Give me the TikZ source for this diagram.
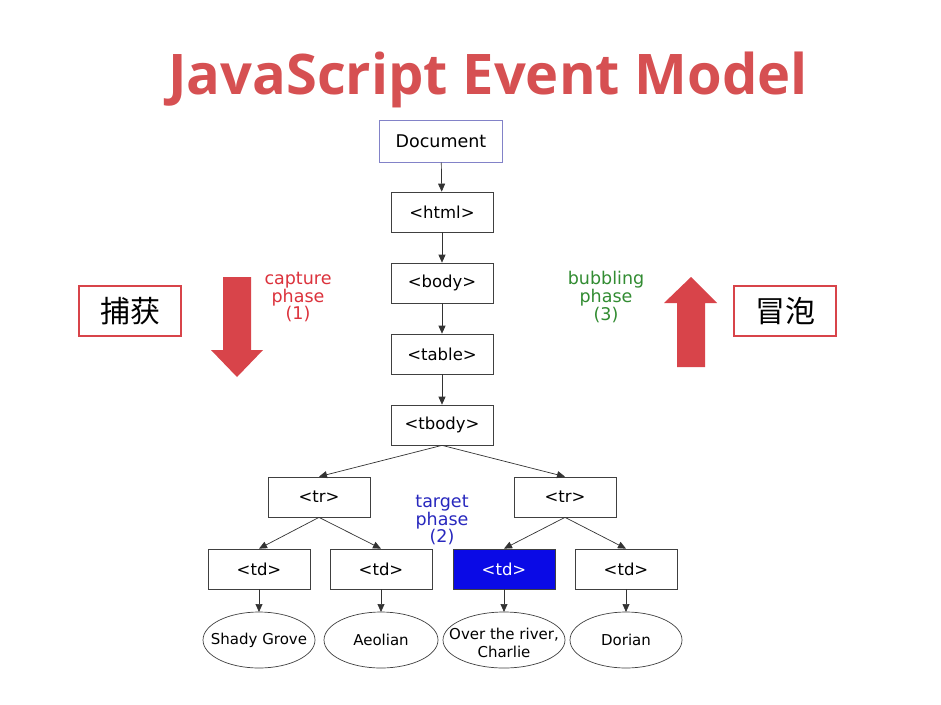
\documentclass[tikz,border=0pt]{standalone}
\usepackage{fontspec}
\setmainfont{DejaVu Sans}
\newfontfamily\titlefont{Open Sans}
\newfontfamily\cjkfont{Noto Sans CJK SC}
\usetikzlibrary{shapes.geometric,arrows.meta}
\definecolor{titlered}{RGB}{214,80,82}
\definecolor{arrowred}{RGB}{216,68,74}
\definecolor{capred}{RGB}{220,50,60}
\definecolor{bubgreen}{RGB}{50,140,50}
\definecolor{tarblue}{RGB}{40,40,190}
\definecolor{hiblue}{RGB}{10,10,230}
\definecolor{docborder}{RGB}{130,130,200}
\begin{document}
\begin{tikzpicture}[x=1pt,y=-1pt,
  tagbox/.style={draw=black!75,line width=0.7pt,minimum width=102pt,minimum height=40pt,inner sep=0pt,font=\fontsize{16.5}{19}\selectfont},
  leaf/.style={inner sep=0pt,align=center,font=\fontsize{15}{18}\selectfont},
  leafline/.style={draw=black!75,line width=0.7pt},
  edge/.style={draw=black!80,line width=0.7pt,-{Triangle[length=8pt,width=7pt]}},
  phase/.style={align=center,font=\fontsize{17.5}{16.5}\selectfont},
  cjkbox/.style={draw=arrowred,line width=2.5pt,minimum width=102pt,minimum height=50pt,inner sep=0pt,font=\cjkfont\fontsize{30}{32}\selectfont}
]
\useasboundingbox (0,0) rectangle (941,704);
\fill[white] (0,0) rectangle (941,704);

\node[text=titlered,font=\titlefont\bfseries\fontsize{56}{60}\selectfont] (title) at (488,80) {JavaScript Event Model};

\node[tagbox,draw=docborder,line width=1pt,minimum width=123pt,minimum height=42pt,font=\fontsize{17.5}{20}\selectfont] (doc) at (441,141) {Document};
\node[tagbox] (html) at (442,212) {<html>};
\node[tagbox] (body) at (442,283) {<body>};
\node[tagbox] (table) at (442,354) {<table>};
\node[tagbox] (tbody) at (442,425) {<tbody>};
\node[tagbox] (trl) at (319,497) {<tr>};
\node[tagbox] (trr) at (565,497) {<tr>};
\node[tagbox] (td1) at (259,569) {<td>};
\node[tagbox] (td2) at (381,569) {<td>};
\node[tagbox,fill=hiblue,text=white] (td3) at (504,569) {<td>};
\node[tagbox] (td4) at (626,569) {<td>};

\node[leaf] (l1) at (259,640) {Shady Grove};
\node[leaf] (l2) at (381,640) {Aeolian};
\node[leaf] (l3) at (504,643) {Over the river,\\Charlie};
\node[leaf] (l4) at (626,640) {Dorian};
\draw[leafline] (259,640) ellipse [x radius=56, y radius=28];
\draw[leafline] (381,640) ellipse [x radius=57, y radius=28];
\draw[leafline] (504,640) ellipse [x radius=61, y radius=28];
\draw[leafline] (626,640) ellipse [x radius=56, y radius=28];
\coordinate (l1top) at (259,612);
\coordinate (l2top) at (381,612);
\coordinate (l3top) at (504,612);
\coordinate (l4top) at (626,612);

\draw[edge] (doc) -- (html);
\draw[edge] (html) -- (body);
\draw[edge] (body) -- (table);
\draw[edge] (table) -- (tbody);
\draw[edge] (tbody.south) -- (trl.north);
\draw[edge] (tbody.south) -- (trr.north);
\draw[edge] (trl.south) -- (td1.north);
\draw[edge] (trl.south) -- (td2.north);
\draw[edge] (trr.south) -- (td3.north);
\draw[edge] (trr.south) -- (td4.north);
\draw[edge] (td1.south) -- (l1top);
\draw[edge] (td2.south) -- (l2top);
\draw[edge] (td3.south) -- (l3top);
\draw[edge] (td4.south) -- (l4top);

\node[phase,text=capred] (cap) at (298,297) {capture\\phase\\(1)};
\node[phase,text=bubgreen] (bub) at (606,297) {bubbling\\phase\\(3)};
\node[phase,text=tarblue] (tar) at (442,520) {target\\phase\\(2)};

\fill[arrowred] (223,277) -- (251,277) -- (251,350) -- (263,350) -- (237,377) -- (211,350) -- (223,350) -- cycle;
\fill[arrowred] (677,367) -- (705,367) -- (705,303) -- (717,303) -- (691,277) -- (664,303) -- (677,303) -- cycle;

\node[cjkbox] (cap cn) at (130,311) {捕获};
\node[cjkbox] (bub cn) at (785,311) {冒泡};
\end{tikzpicture}
\end{document}
